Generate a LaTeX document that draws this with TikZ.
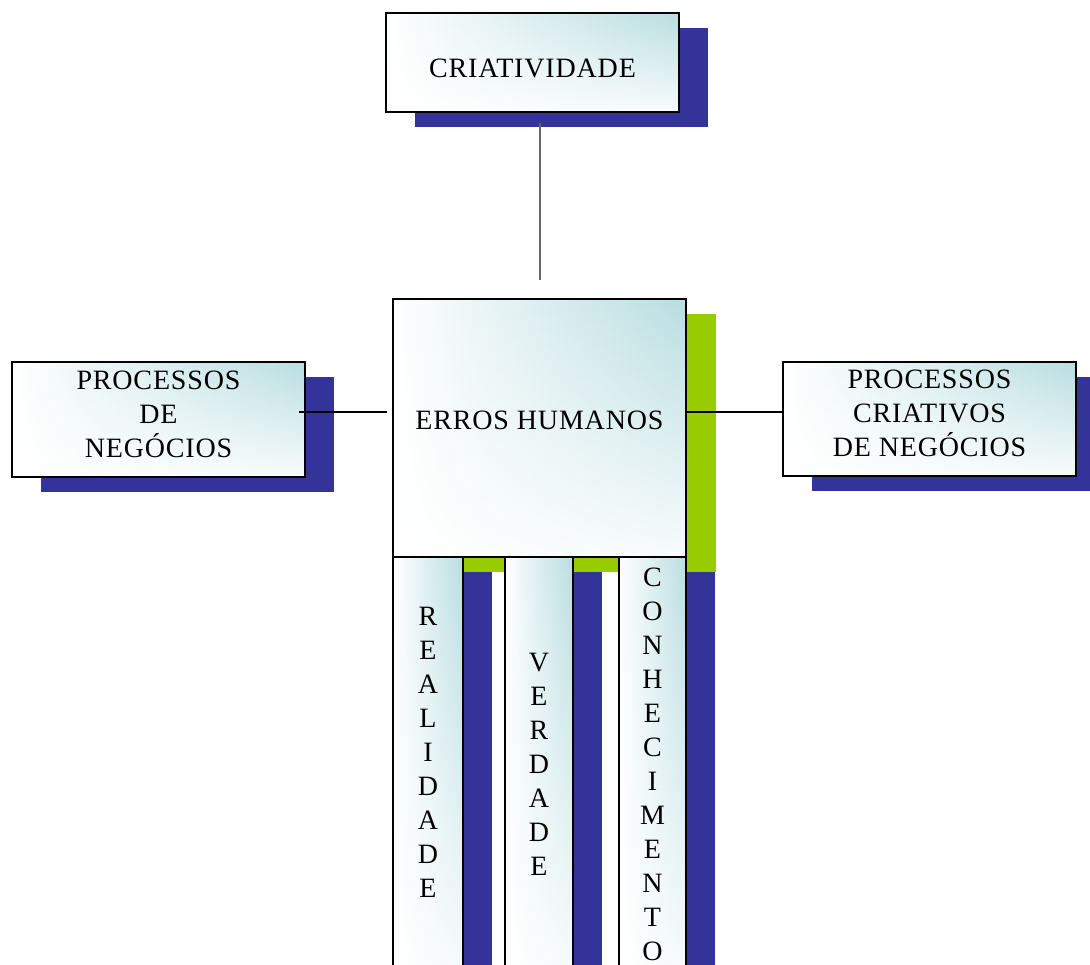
\documentclass[tikz,border=0pt]{standalone}
\usepackage{fontspec}
\setmainfont{Liberation Serif}[LetterSpace=3]
\usetikzlibrary{shadows,fadings}
\definecolor{navyshade}{HTML}{333399}
\definecolor{limeshade}{HTML}{99CC00}
\definecolor{aqua}{HTML}{B9DEE1}
\tikzset{
  glass/.style={draw,line width=2pt,inner sep=0pt,align=center,
    left color=white,right color=aqua,
    path picture={\fill[white,opacity=0.9,path fading=north]
      (path picture bounding box.south west) rectangle (path picture bounding box.north east);},
    font=\fontsize{28}{34}\selectfont},
  navyshadow/.style={drop shadow={shadow xshift=29pt,shadow yshift=-15pt,fill=navyshade,opacity=1}},
  limeshadow/.style={drop shadow={shadow xshift=30pt,shadow yshift=-15pt,fill=limeshade,opacity=1}},
  link/.style={line width=2pt}
}

\begin{document}
\begin{tikzpicture}[x=1pt,y=-1pt]
\useasboundingbox (0,0) rectangle (1090,965);
\clip (0,0) rectangle (1090,965);
% boxes
\node[glass,navyshadow,minimum width=293pt,minimum height=99pt,text height=31pt] (criat) at (532.5,62.5) {CRIATIVIDADE};
\node[glass,limeshadow,minimum width=293pt,minimum height=258pt,text depth=16pt] (erros) at (539.5,428) {ERROS HUMANOS};
\node[glass,navyshadow,minimum width=293pt,minimum height=115pt,text depth=11pt] (negocios) at (158.5,419.5) {PROCESSOS\\DE\\NEGÓCIOS};
\node[glass,navyshadow,minimum width=293pt,minimum height=114pt,text depth=11pt] (criativos) at (929.5,419) {PROCESSOS\\CRIATIVOS\\DE NEGÓCIOS};
% columns under the middle box
\node[glass,navyshadow,minimum width=70pt,minimum height=418pt,text depth=28pt] (realidade) at (428,766) {R\\E\\A\\L\\I\\D\\A\\D\\E};
\node[glass,navyshadow,minimum width=68pt,minimum height=418pt,text depth=4pt] (verdade) at (539,766) {V\\E\\R\\D\\A\\D\\E};
\node[glass,navyshadow,minimum width=67pt,minimum height=418pt,text depth=3pt] (conhec) at (652.5,766) {C\\O\\N\\H\\E\\C\\I\\M\\E\\N\\T\\O};
% links
\draw[link,black!60,shorten <=18pt,shorten >=10pt] (erros.north) -- (erros.north |- criat.south);
\draw[link,shorten <=-7pt,shorten >=5pt] ([yshift=7pt]negocios.east) -- ([yshift=7pt]negocios.east -| erros.west);
\draw[link] ([yshift=7pt]criativos.west) -- ([yshift=7pt]criativos.west -| erros.east);
\end{tikzpicture}
\end{document}
